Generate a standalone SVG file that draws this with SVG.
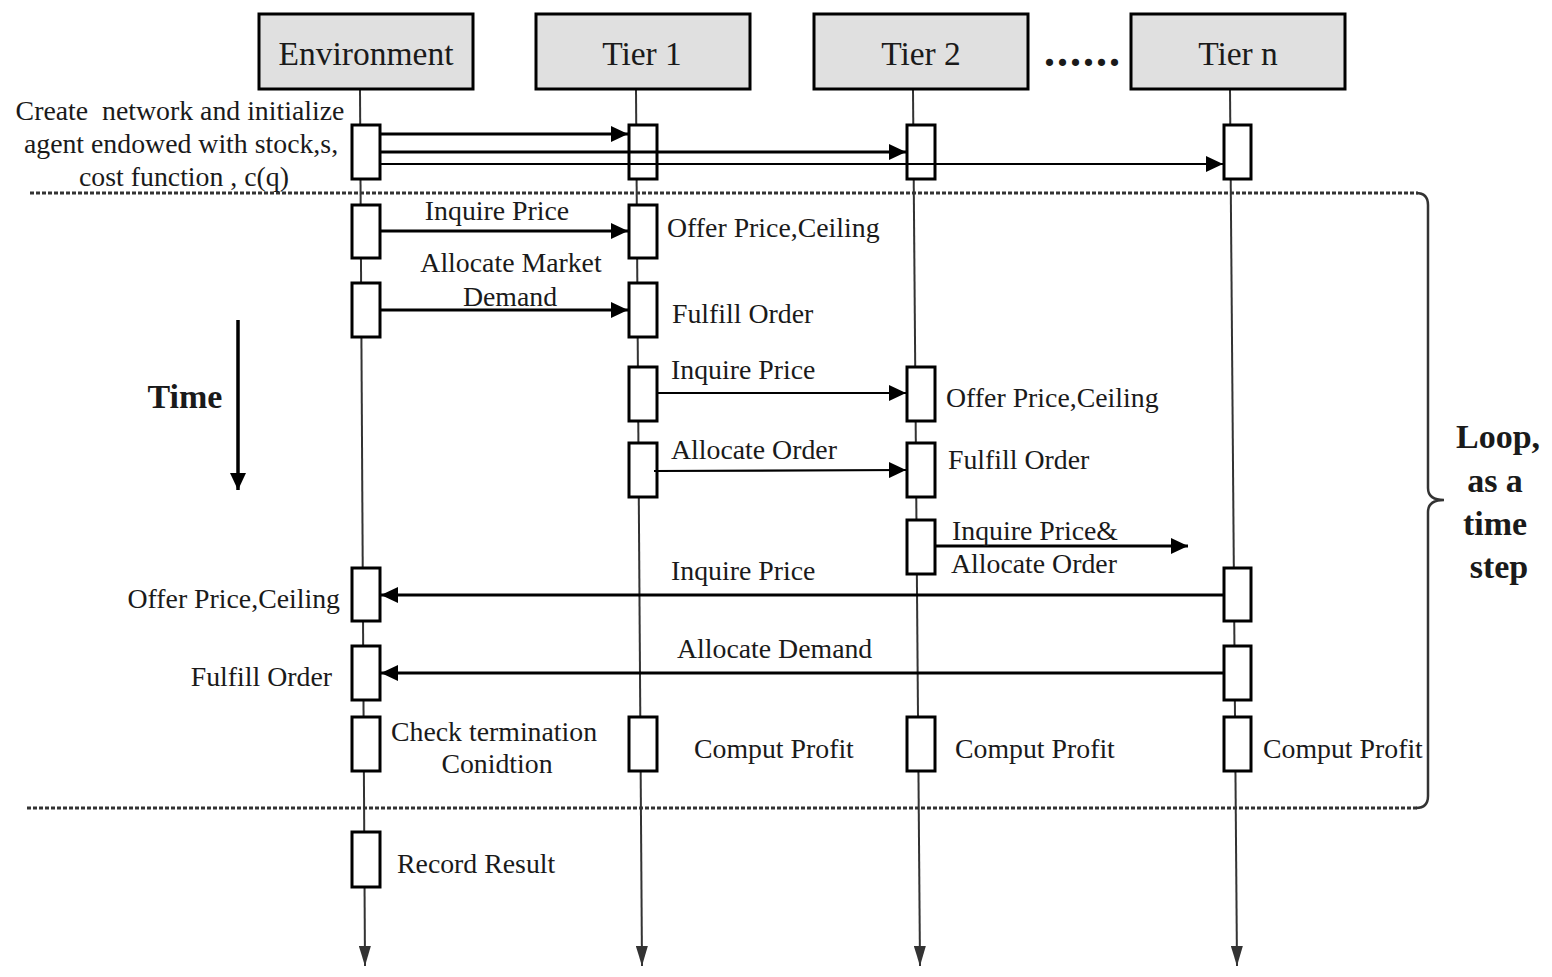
<svg xmlns="http://www.w3.org/2000/svg" width="1552" height="977" viewBox="0 0 1552 977">
<style>
.hdr{fill:#e0e0e0;stroke:#000;stroke-width:3}
.ht{font-family:"Liberation Serif","Times New Roman",serif;font-size:33.5px;fill:#1a1a1a;text-anchor:middle}
.t{font-family:"Liberation Serif","Times New Roman",serif;font-size:27.8px;fill:#1a1a1a;white-space:pre}
.m{text-anchor:middle}
.e{text-anchor:end}
.b{font-family:"Liberation Serif","Times New Roman",serif;font-weight:bold;font-size:34px;fill:#1a1a1a;text-anchor:middle}
.life{stroke:#333;stroke-width:2;fill:none;marker-end:url(#lh)}
.act{fill:#fff;stroke:#000;stroke-width:3}
.msg{stroke:#000;stroke-width:3;fill:none;marker-end:url(#ah)}
.msgt{stroke:#000;stroke-width:2.2;fill:none;marker-end:url(#ah)}
.dash{stroke:#333;stroke-width:3;stroke-dasharray:4 2;fill:none}
</style>
<defs>
<marker id="ah" markerUnits="userSpaceOnUse" markerWidth="17" markerHeight="16" refX="17" refY="8" orient="auto">
<path d="M0,0 L17,8 L0,16 z" fill="#000"/>
</marker>
<marker id="lh" markerUnits="userSpaceOnUse" markerWidth="20" markerHeight="12" refX="20" refY="6" orient="auto">
<path d="M0,0 L20,6 L0,12 z" fill="#333"/>
</marker>
</defs>
<rect width="1552" height="977" fill="#fff"/>

<g id="lifelines">
<path class="life" d="M360,90 L365,966"/>
<path class="life" d="M636,90 L642,966"/>
<path class="life" d="M913,90 L920,966"/>
<path class="life" d="M1230,90 L1237,966"/>
</g>

<g id="environment">
<rect class="hdr" x="259" y="14" width="214" height="75"/>
<text class="ht" x="366" y="65">Environment</text>
</g>
<g id="tier1">
<rect class="hdr" x="536" y="14" width="214" height="75"/>
<text class="ht" x="642" y="65">Tier 1</text>
</g>
<g id="tier2">
<rect class="hdr" x="814" y="14" width="214" height="75"/>
<text class="ht" x="921" y="65">Tier 2</text>
</g>
<g id="tiern">
<rect class="hdr" x="1131" y="14" width="214" height="75"/>
<text class="ht" x="1238" y="65">Tier n</text>
</g>
<text id="ellipsis" x="1083" y="66" font-family="Liberation Serif, serif" font-weight="bold" font-size="44" letter-spacing="2" fill="#1a1a1a" text-anchor="middle">......</text>

<g id="loop-frame">
<path class="dash" d="M30,193 L1418,193"/>
<path class="dash" d="M27,808 L1418,808"/>
<path d="M1416,193 Q1428,193 1428,205 L1428,488 Q1428,500 1444,500 Q1428,500 1428,512 L1428,796 Q1428,808 1416,808" stroke="#333" stroke-width="2.5" fill="none"/>
</g>

<g id="env-activations">
<rect class="act" x="352" y="125" width="28" height="54"/>
<rect class="act" x="352" y="205" width="28" height="53"/>
<rect class="act" x="352" y="283" width="28" height="54"/>
<rect class="act" x="352" y="568" width="28" height="53"/>
<rect class="act" x="352" y="646" width="28" height="54"/>
<rect class="act" x="352" y="717" width="28" height="54"/>
<rect class="act" x="352" y="832" width="28" height="55"/>
</g>
<g id="tier1-activations">
<rect class="act" x="629" y="125" width="28" height="54"/>
<rect class="act" x="629" y="205" width="28" height="53"/>
<rect class="act" x="629" y="283" width="28" height="54"/>
<rect class="act" x="629" y="367" width="28" height="54"/>
<rect class="act" x="629" y="443" width="28" height="54"/>
<rect class="act" x="629" y="717" width="28" height="54"/>
</g>
<g id="tier2-activations">
<rect class="act" x="907" y="125" width="28" height="54"/>
<rect class="act" x="907" y="367" width="28" height="54"/>
<rect class="act" x="907" y="443" width="28" height="54"/>
<rect class="act" x="907" y="520" width="28" height="54"/>
<rect class="act" x="907" y="717" width="28" height="54"/>
</g>
<g id="tiern-activations">
<rect class="act" x="1224" y="125" width="27" height="54"/>
<rect class="act" x="1224" y="568" width="27" height="53"/>
<rect class="act" x="1224" y="646" width="27" height="54"/>
<rect class="act" x="1224" y="717" width="27" height="54"/>
</g>

<g id="connectors">
<path class="msg" d="M380,134 L628,134"/>
<path class="msg" d="M380,152 L906,152"/>
<path class="msgt" d="M380,164 L1223,164"/>
<path class="msg" d="M380,231 L628,231"/>
<path class="msg" d="M380,310 L628,310"/>
<path class="msgt" d="M657,393 L906,393"/>
<path class="msgt" d="M654,471 L906,470"/>
<path class="msg" d="M935,546 L1188,546"/>
<path class="msg" d="M1224,595 L381,595"/>
<path class="msg" d="M1224,673 L381,673"/>
<path d="M238,320 L238,490" stroke="#000" stroke-width="3.5" fill="none" marker-end="url(#ah)"/>
</g>

<g id="labels">
<text class="t m" x="180" y="120">Create  network and initialize</text>
<text class="t m" x="181" y="153">agent endowed with stock,s,</text>
<text class="t m" x="184" y="186">cost function , c(q)</text>
<text class="t m" x="497" y="220">Inquire Price</text>
<text class="t" x="667" y="237">Offer Price,Ceiling</text>
<text class="t m" x="511" y="272">Allocate Market</text>
<text class="t m" x="510" y="306">Demand</text>
<text class="t" x="672" y="323">Fulfill Order</text>
<text class="t" x="671" y="379">Inquire Price</text>
<text class="t" x="946" y="407">Offer Price,Ceiling</text>
<text class="t" x="671" y="459">Allocate Order</text>
<text class="t" x="948" y="469">Fulfill Order</text>
<text class="t" x="952" y="540">Inquire Price&amp;</text>
<text class="t" x="951" y="573">Allocate Order</text>
<text class="t" x="671" y="580">Inquire Price</text>
<text class="t e" x="340" y="608">Offer Price,Ceiling</text>
<text class="t" x="677" y="658">Allocate Demand</text>
<text class="t e" x="332" y="686">Fulfill Order</text>
<text class="t" x="391" y="741">Check termination</text>
<text class="t m" x="497" y="773">Conidtion</text>
<text class="t" x="694" y="758">Comput Profit</text>
<text class="t" x="955" y="758">Comput Profit</text>
<text class="t" x="1263" y="758">Comput Profit</text>
<text class="t" x="397" y="873">Record Result</text>
<text class="b" x="185" y="408">Time</text>
<text class="b" x="1498" y="448">Loop,</text>
<text class="b" x="1495" y="492">as a</text>
<text class="b" x="1495" y="535">time</text>
<text class="b" x="1499" y="578">step</text>
</g>
</svg>
